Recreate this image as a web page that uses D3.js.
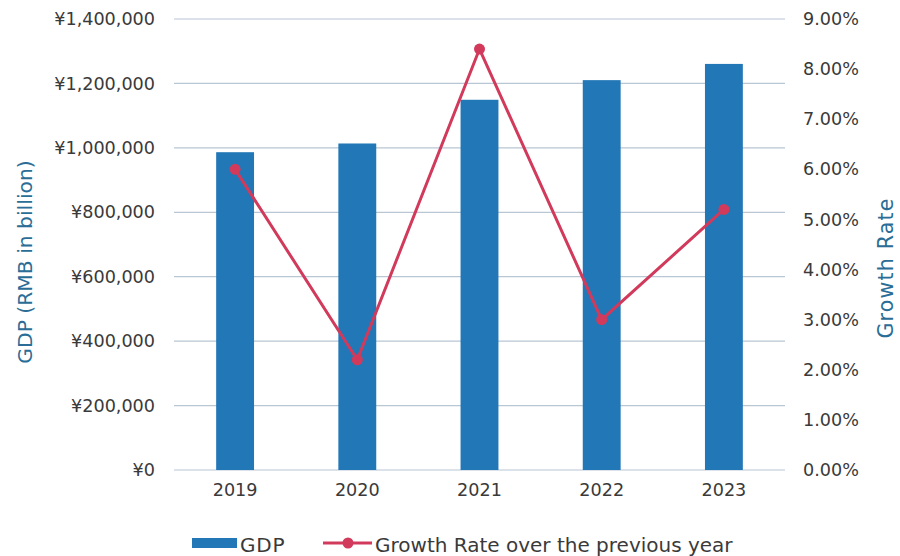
<!DOCTYPE html>
<html><head><meta charset="utf-8">
<script src="https://cdn.jsdelivr.net/npm/d3@7"></script>
<style>html,body{margin:0;padding:0;background:#fff}svg{display:block}</style>
</head><body>
<script>
const years = ["2019","2020","2021","2022","2023"];
const gdp = [986515, 1013567, 1149237, 1210207, 1260582];
const growth = [6.0, 2.2, 8.4, 3.0, 5.2];
const leftTicks = [0,200000,400000,600000,800000,1000000,1200000,1400000];
const rightTicks = [0,1,2,3,4,5,6,7,8,9];

const W=900,H=556;
const font = "'DejaVu Sans', 'Open Sans', sans-serif";
const svg = d3.select("body").append("svg").attr("width",W).attr("height",H)
  .style("font-family",font);
const L=174,R=785,T=19,B=470;
const x = d3.scaleBand().domain(years).range([L,R]).paddingInner(0.69).paddingOuter(0.345);
const yL = d3.scaleLinear().domain([0,1400000]).range([B,T]);
const yR = d3.scaleLinear().domain([0,9]).range([B,T]);
const textCol="#3a3a3a";

// gridlines
svg.append("g").selectAll("line").data(leftTicks).join("line")
  .attr("x1",L).attr("x2",R).attr("y1",d=>yL(d)).attr("y2",d=>yL(d))
  .attr("stroke","#b9c6d4").attr("stroke-width",1.2);

// left axis
const fmtL = d=>"¥"+d3.format(",")(d);
const gl = svg.append("g").attr("transform",`translate(${L-13},0)`)
  .call(d3.axisLeft(yL).tickValues(leftTicks).tickFormat(fmtL).tickSize(0).tickPadding(6));
gl.select(".domain").remove();
gl.selectAll("text").attr("fill",textCol).style("font-size","17.6px").style("font-family",font);

// right axis
const gr = svg.append("g").attr("transform",`translate(${R+12},0)`)
  .call(d3.axisRight(yR).tickValues(rightTicks).tickFormat(d=>d.toFixed(2)+"%").tickSize(0).tickPadding(6));
gr.select(".domain").remove();
gr.selectAll("text").attr("fill",textCol).style("font-size","17.6px").style("font-family",font);

// x axis
const gx = svg.append("g").attr("transform",`translate(0,${B+8})`)
  .call(d3.axisBottom(x).tickSize(0).tickPadding(6));
gx.select(".domain").remove();
gx.selectAll("text").attr("fill",textCol).style("font-size","17.6px").style("font-family",font);

// bars
svg.append("g").selectAll("rect").data(years).join("rect")
  .attr("x",d=>x(d)).attr("width",x.bandwidth())
  .attr("y",(d,i)=>yL(gdp[i])).attr("height",(d,i)=>B-yL(gdp[i]))
  .attr("fill","#2277b6");

// line
const cx = d=>x(d)+x.bandwidth()/2;
svg.append("path").datum(years)
  .attr("d",d3.line().x(d=>cx(d)).y((d,i)=>yR(growth[i])))
  .attr("fill","none").attr("stroke","#d23a5c").attr("stroke-width",3);
svg.append("g").selectAll("circle").data(years).join("circle")
  .attr("cx",d=>cx(d)).attr("cy",(d,i)=>yR(growth[i])).attr("r",5.5)
  .attr("fill","#d23a5c");

// axis titles
svg.append("text").attr("transform",`translate(32,262) rotate(-90)`)
  .attr("text-anchor","middle").attr("fill","#2a6d96").style("font-size","20.3px")
  .text("GDP (RMB in billion)");
svg.append("text").attr("transform",`translate(893,268) rotate(-90)`)
  .attr("text-anchor","middle").attr("fill","#2a6d96").style("font-size","20.5px")
  .style("letter-spacing","1.2px")
  .text("Growth Rate");

// legend
const lg = svg.append("g");
lg.append("rect").attr("x",192).attr("y",538).attr("width",45).attr("height",10).attr("fill","#2277b6");
lg.append("text").attr("x",240).attr("y",552).attr("fill",textCol).style("font-size","20px")
  .style("letter-spacing","0.8px").text("GDP");
lg.append("line").attr("x1",323).attr("x2",372).attr("y1",543).attr("y2",543)
  .attr("stroke","#d23a5c").attr("stroke-width",3);
lg.append("circle").attr("cx",348).attr("cy",543).attr("r",5.5).attr("fill","#d23a5c");
lg.append("text").attr("x",375).attr("y",552).attr("fill",textCol).style("font-size","20px")
  .text("Growth Rate over the previous year");
</script>
</body></html>
